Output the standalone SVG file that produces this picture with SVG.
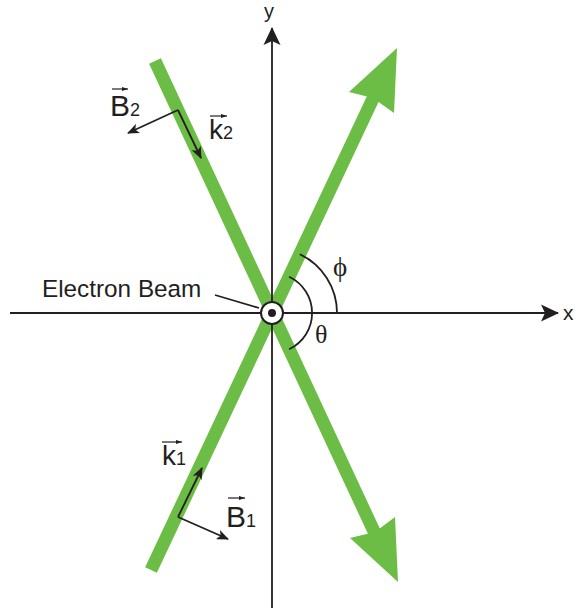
<svg xmlns="http://www.w3.org/2000/svg" width="577" height="615" viewBox="0 0 577 615">
<style>
.beam{stroke:#6cbd45;stroke-width:13;fill:none}
.head{fill:#6cbd45}
.ax{stroke:#231f20;stroke-width:1.8;fill:none}
.vec{stroke:#231f20;stroke-width:1.8;fill:none}
.lbl{font-family:"Liberation Sans",Arial,sans-serif;fill:#231f20}
.grk{font-family:"Liberation Serif","Times New Roman",serif;fill:#231f20}
.ov{stroke:#231f20;stroke-width:1.2;fill:none}
</style>
<defs>
<marker id="ah" viewBox="0 0 12 10" refX="11" refY="5" markerWidth="12" markerHeight="10" markerUnits="userSpaceOnUse" orient="auto">
<path d="M0,0 L12,5 L0,10 L3,5 Z" fill="#231f20"/>
</marker>
<marker id="axh" viewBox="0 0 18 18" refX="17" refY="9" markerWidth="18" markerHeight="18" markerUnits="userSpaceOnUse" orient="auto">
<path d="M0,0.5 L18,9 L0,17.5 L4,9 Z" fill="#231f20"/>
</marker>
<marker id="oh" viewBox="0 0 6 4" refX="6" refY="2" markerWidth="6" markerHeight="4" markerUnits="userSpaceOnUse" orient="auto">
<path d="M0,0 L6,2 L0,4 Z" fill="#231f20"/>
</marker>
</defs>

<g id="beam-1">
<line class="beam" x1="155" y1="61" x2="385" y2="555"/>
<polygon class="head" points="398,582 395,517 375,532 350,538"/>
</g>
<g id="beam-2">
<line class="beam" x1="151" y1="570" x2="385" y2="73"/>
<polygon class="head" points="397,48 349,92 373,98 394,113"/>
</g>

<g id="connectors">
<line class="ax" x1="10" y1="313" x2="558" y2="313" marker-end="url(#axh)"/>
<line class="ax" x1="272" y1="608" x2="272" y2="28" marker-end="url(#axh)"/>
<line class="vec" x1="215" y1="295" x2="259" y2="308"/>
<line class="vec" x1="178" y1="110" x2="201" y2="158" marker-end="url(#ah)"/>
<line class="vec" x1="178" y1="110" x2="128" y2="133" marker-end="url(#ah)"/>
<line class="vec" x1="178" y1="517" x2="202" y2="468" marker-end="url(#ah)"/>
<line class="vec" x1="178" y1="517" x2="228" y2="539" marker-end="url(#ah)"/>
<path class="vec" d="M337,313 A65,65 0 0 0 299.8,254.2"/>
<path class="vec" d="M289.1,276.8 A40,40 0 0 1 289.1,349.2"/>
</g>

<g id="electron-beam">
<circle cx="272" cy="313" r="11" fill="#fff" stroke="#231f20" stroke-width="2"/>
<circle cx="272" cy="313" r="4" fill="#231f20"/>
</g>

<g id="labels">
<text class="lbl" x="264" y="18" font-size="20">y</text>
<text class="lbl" x="563" y="320" font-size="21">x</text>
<text class="lbl" x="42" y="297" font-size="24.3">Electron Beam</text>
<text class="grk" x="333" y="276" font-size="27">ϕ</text>
<text class="grk" x="315" y="343" font-size="26">θ</text>

<g id="label-B2">
<text class="lbl" x="110" y="116" font-size="30">B<tspan font-size="18">2</tspan></text>
<line class="ov" x1="112" y1="89" x2="128" y2="89" marker-end="url(#oh)"/>
</g>
<g id="label-k2">
<text class="lbl" x="209" y="139" font-size="28">k<tspan font-size="18">2</tspan></text>
<line class="ov" x1="210" y1="116" x2="227" y2="116" marker-end="url(#oh)"/>
</g>
<g id="label-k1">
<text class="lbl" x="162" y="465" font-size="28">k<tspan font-size="18">1</tspan></text>
<line class="ov" x1="162" y1="442" x2="182" y2="442" marker-end="url(#oh)"/>
</g>
<g id="label-B1">
<text class="lbl" x="226" y="527" font-size="30">B<tspan font-size="18">1</tspan></text>
<line class="ov" x1="228" y1="498" x2="245" y2="498" marker-end="url(#oh)"/>
</g>
</g>
</svg>
